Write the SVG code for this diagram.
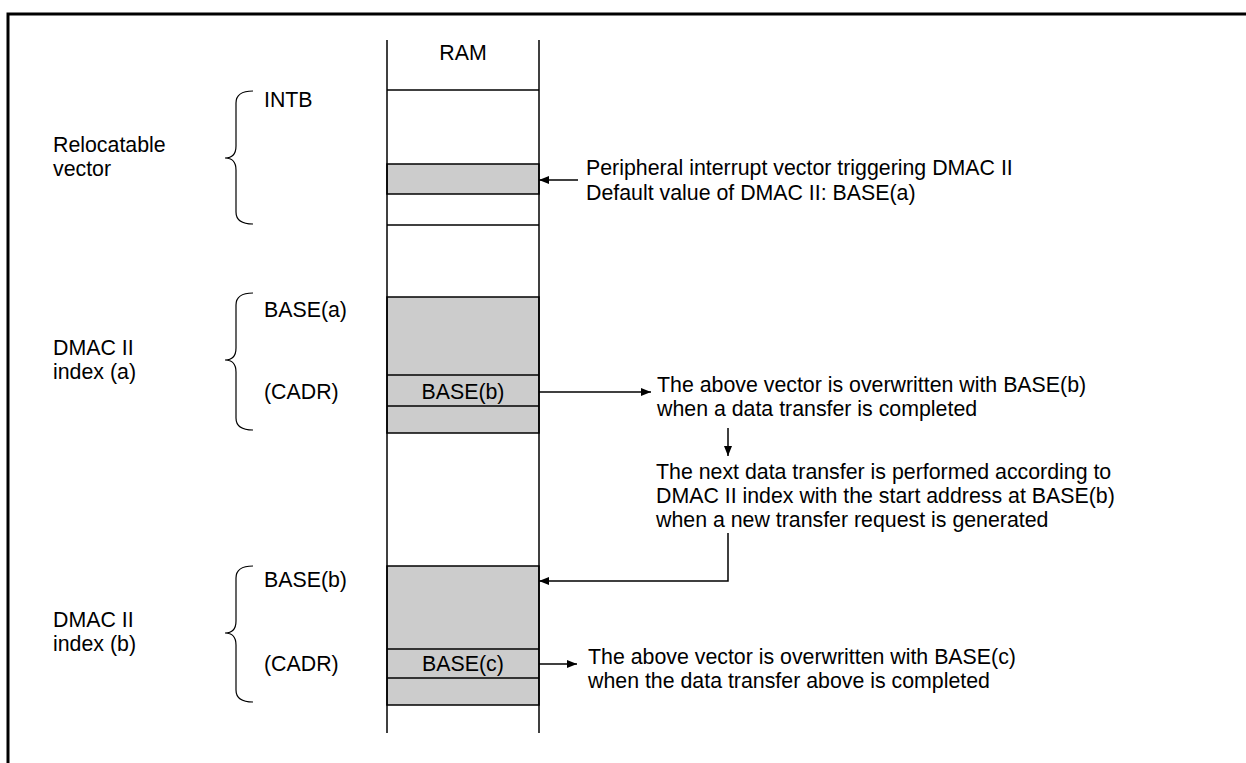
<svg xmlns="http://www.w3.org/2000/svg" width="1246" height="763" viewBox="0 0 1246 763">
<style>
text{font-family:"Liberation Sans",Arial,sans-serif;font-size:21.33px;fill:#000}
.c{text-anchor:middle}
.ln{stroke:#000;stroke-width:1.5;fill:none}
.g{fill:#cccccc;stroke:#000;stroke-width:1.5}
.br{stroke:#000;stroke-width:1.2;fill:none}
.ar{stroke:#000;stroke-width:1.5;fill:none;marker-end:url(#ah)}
</style>
<defs>
<marker id="ah" viewBox="0 0 10 8" refX="10" refY="4" markerWidth="10" markerHeight="8" markerUnits="userSpaceOnUse" orient="auto">
<path d="M0,0 L10,4 L0,8 Z" fill="#000"/>
</marker>
</defs>
<rect x="0" y="0" width="1246" height="763" fill="#fff"/>
<rect x="8" y="14" width="1260" height="780" fill="none" stroke="#000" stroke-width="3"/>

<g id="ram">
<text class="c" x="463" y="60">RAM</text>
<rect class="g" x="387" y="164" width="152" height="30"/>
<rect class="g" x="387" y="297" width="152" height="136"/>
<rect class="g" x="387" y="566" width="152" height="139"/>
<line class="ln" x1="387" y1="40" x2="387" y2="733"/>
<line class="ln" x1="539" y1="40" x2="539" y2="733"/>
<line class="ln" x1="387" y1="90" x2="539" y2="90"/>
<line class="ln" x1="387" y1="225" x2="539" y2="225"/>
<line class="ln" x1="387" y1="375" x2="539" y2="375"/>
<line class="ln" x1="387" y1="406" x2="539" y2="406"/>
<line class="ln" x1="387" y1="649" x2="539" y2="649"/>
<line class="ln" x1="387" y1="678" x2="539" y2="678"/>
<text class="c" x="463" y="399">BASE(b)</text>
<text class="c" x="463" y="671">BASE(c)</text>
</g>

<g id="relocatable">
<path class="br" d="M253,91 Q236,91 236,103 L236,146 Q236,158 225,158 Q236,158 236,170 L236,212 Q236,224 253,224"/>
<text x="264" y="107">INTB</text>
<text x="53" y="152">Relocatable</text>
<text x="53" y="176">vector</text>
</g>

<g id="index-a">
<path class="br" d="M253,293 Q236,293 236,305 L236,348 Q236,360 225,360 Q236,360 236,372 L236,418 Q236,430 253,430"/>
<text x="264" y="317">BASE(a)</text>
<text x="264" y="399">(CADR)</text>
<text x="53" y="355">DMAC II</text>
<text x="53" y="379">index (a)</text>
</g>

<g id="index-b">
<path class="br" d="M253,566 Q236,566 236,578 L236,621 Q236,633 225,633 Q236,633 236,645 L236,690 Q236,702 253,702"/>
<text x="264" y="587">BASE(b)</text>
<text x="264" y="671">(CADR)</text>
<text x="53" y="627">DMAC II</text>
<text x="53" y="651">index (b)</text>
</g>

<g id="note-peripheral">
<text x="586" y="175">Peripheral interrupt vector triggering DMAC II</text>
<text x="586" y="200">Default value of DMAC II: BASE(a)</text>
</g>

<g id="note-overwrite-b">
<text x="657" y="392">The above vector is overwritten with BASE(b)</text>
<text x="657" y="416">when a data transfer is completed</text>
</g>

<g id="note-next">
<text x="656" y="479">The next data transfer is performed according to</text>
<text x="656" y="503">DMAC II index with the start address at BASE(b)</text>
<text x="656" y="527">when a new transfer request is generated</text>
</g>

<g id="note-overwrite-c">
<text x="588" y="664">The above vector is overwritten with BASE(c)</text>
<text x="588" y="688">when the data transfer above is completed</text>
</g>

<g id="connectors">
<path class="ar" d="M578,180 L539,180"/>
<path class="ar" d="M539,392 L651,392"/>
<path class="ar" d="M728,428 L728,456"/>
<path class="ar" d="M728,533 L728,581 L539,581"/>
<path class="ar" d="M539,664 L577,664"/>
</g>
</svg>
